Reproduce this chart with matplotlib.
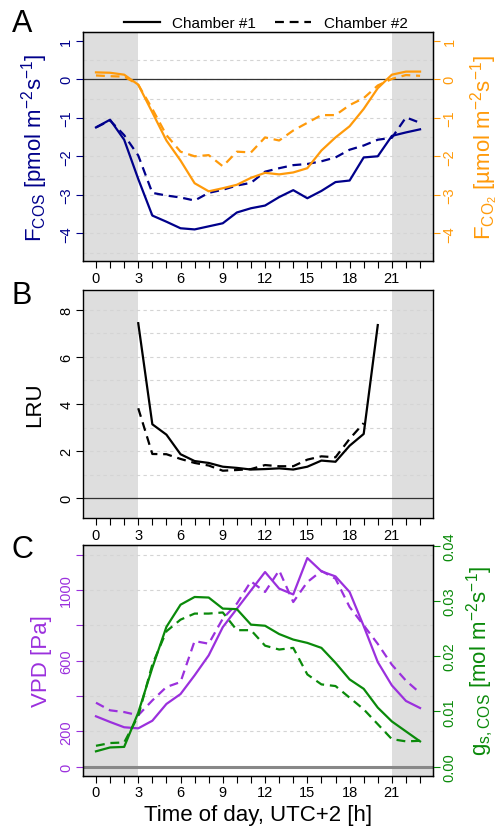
import matplotlib
matplotlib.use('Agg')
import matplotlib.pyplot as plt
import numpy as np

plt.rcParams['font.family'] = ['Liberation Sans', 'DejaVu Sans']
plt.rcParams['mathtext.default'] = 'regular'

# 数据
hours = list(range(24))
night_end, night_start = 3, 21

fcos_1 = [-1.25, -1.05, -1.57, -2.59, -3.54, -3.70, -3.87, -3.90, -3.82, -3.74, -3.46, -3.35,
          -3.28, -3.06, -2.88, -3.09, -2.90, -2.67, -2.63, -2.03, -2.00, -1.47, -1.38, -1.30]
fcos_2 = [-1.25, -1.07, -1.45, -1.98, -2.95, -3.02, -3.07, -3.15, -2.95, -2.87, -2.76, -2.69,
          -2.40, -2.31, -2.23, -2.20, -2.13, -2.03, -1.83, -1.72, -1.57, -1.52, -0.99, -1.13]
fco2_1 = [0.18, 0.17, 0.12, -0.14, -0.86, -1.59, -2.11, -2.70, -2.91, -2.83, -2.74, -2.56,
          -2.43, -2.47, -2.42, -2.31, -1.85, -1.51, -1.22, -0.77, -0.23, 0.12, 0.20, 0.20]
fco2_2 = [0.10, 0.08, 0.07, -0.14, -0.77, -1.45, -1.88, -2.00, -1.97, -2.26, -1.88, -1.90,
          -1.51, -1.59, -1.33, -1.13, -0.93, -0.93, -0.67, -0.49, -0.16, 0.01, 0.11, 0.09]

lru_hours_1 = list(range(3, 21))
lru_1 = [7.43, 3.14, 2.70, 1.87, 1.58, 1.50, 1.34, 1.29, 1.22, 1.24, 1.27, 1.22,
         1.34, 1.60, 1.55, 2.23, 2.73, 7.35]
lru_hours_2 = list(range(3, 20))
lru_2 = [3.82, 1.88, 1.87, 1.67, 1.50, 1.39, 1.17, 1.20, 1.24, 1.41, 1.36, 1.36,
         1.64, 1.78, 1.74, 2.52, 3.19]

vpd_1 = [285, 253, 223, 217, 260, 355, 411, 517, 630, 790, 894, 998,
         1102, 1008, 975, 1181, 1106, 1077, 989, 796, 592, 460, 372, 332]
vpd_2 = [362, 319, 309, 291, 375, 451, 479, 711, 696, 838, 923, 1049,
         989, 1111, 932, 1045, 1108, 1064, 904, 800, 695, 577, 487, 417]
gs_1 = [0.0028, 0.0035, 0.0036, 0.0098, 0.0179, 0.0253, 0.0293, 0.0307, 0.0306, 0.0286, 0.0285, 0.0257,
        0.0255, 0.0240, 0.0230, 0.0224, 0.0215, 0.0188, 0.0158, 0.0141, 0.0107, 0.0082, 0.0064, 0.0046]
gs_2 = [0.0038, 0.0043, 0.0044, 0.0092, 0.0185, 0.0245, 0.0266, 0.0277, 0.0277, 0.0279, 0.0247, 0.0247,
        0.0219, 0.0212, 0.0215, 0.0167, 0.0149, 0.0146, 0.0125, 0.0104, 0.0077, 0.0050, 0.0046, 0.0047]

xticks_major = list(range(0, 22, 3))

# 颜色
navy = '#00008B'
orange = '#FF9A0A'
purple = '#9B30DD'
green = '#0A8A0A'
shade = '#DEDEDE'
grid_c = '#D4D4D4'
DASH = (0, (4, 2.6))
LW = 1.6
TS = 10.5

fig = plt.figure(figsize=(5.01, 8.28), dpi=100)
W = 0.6986
L = 0.1657
xlim = (-0.92, 23.92)


def base(ax, ylim, gridvals):
    ax.set_xlim(xlim)
    ax.set_ylim(ylim)
    ax.axvspan(xlim[0], night_end, color=shade, lw=0, zorder=0)
    ax.axvspan(night_start, xlim[1], color=shade, lw=0, zorder=0)
    for g in gridvals:
        ax.axhline(g, color=grid_c, lw=0.8, ls=(0, (3, 3)), zorder=0.5)
    ax.set_xticks(hours, minor=True)
    ax.set_xticks(xticks_major)
    ax.tick_params(axis='x', which='both', direction='out', length=5, width=0.8,
                   labelsize=TS, pad=2)
    for s in ax.spines.values():
        s.set_linewidth(1.0)


def rot_yticks(ax, color, side='left'):
    ax.tick_params(axis='y', colors=color, direction='out', length=5, width=0.8,
                   labelsize=TS, pad=2)
    for lab in ax.get_yticklabels():
        lab.set_rotation(90)
        lab.set_va('center')
        lab.set_ha('right' if side == 'left' else 'left')


# A
axA = fig.add_axes([L, 0.6836, W, 0.2766])
base(axA, (-4.72, 1.23), np.arange(-4.5, 0.51, 0.5))
axA.axhline(0, color='#333333', lw=0.9, zorder=1)
axA.plot(hours, fcos_1, color=navy, lw=LW, zorder=3)
axA.plot(hours, fcos_2, color=navy, lw=LW, ls=DASH, zorder=3)
axA.plot(hours, fco2_1, color=orange, lw=LW, zorder=3)
axA.plot(hours, fco2_2, color=orange, lw=LW, ls=DASH, zorder=3)
axA.set_yticks(range(-4, 2))
axA.set_yticklabels(['\u22124', '\u22123', '\u22122', '\u22121', '0', '1'])
rot_yticks(axA, navy)
axA.set_ylabel(r'F$_{COS}$ [pmol m$^{-2}$s$^{-1}$]', color=navy, fontsize=16, labelpad=7)
axA2 = axA.twinx()
axA2.set_ylim(axA.get_ylim())
axA2.set_yticks(range(-4, 2))
axA2.set_yticklabels(['\u22124', '\u22123', '\u22122', '\u22121', '0', '1'])
rot_yticks(axA2, orange, side='right')
axA2.set_ylabel(r'F$_{CO_2}$ [µmol m$^{-2}$s$^{-1}$]', color=orange, fontsize=16, labelpad=9)

# B
axB = fig.add_axes([L, 0.3728, W, 0.2761])
base(axB, (-0.85, 8.85), range(1, 9))
axB.axhline(0, color='#333333', lw=0.9, zorder=1)
axB.plot(lru_hours_1, lru_1, color='black', lw=LW, zorder=3)
axB.plot(lru_hours_2, lru_2, color='black', lw=LW, ls=DASH, zorder=3)
axB.set_yticks([0, 2, 4, 6, 8])
rot_yticks(axB, 'black')
axB.set_ylabel('LRU', fontsize=16, labelpad=10)

# C
axC = fig.add_axes([L, 0.0620, W, 0.2786])
base(axC, (-51, 1255), range(200, 1201, 200))
axC.axhline(0, color='#888888', lw=2.2, zorder=1)
axC.plot(hours, vpd_1, color=purple, lw=LW, zorder=3)
axC.plot(hours, vpd_2, color=purple, lw=LW, ls=DASH, zorder=3)
axC.set_yticks(range(0, 1201, 200))
axC.set_yticklabels(['0', '200', '', '600', '', '1000', ''])
rot_yticks(axC, purple)
axC.set_ylabel('VPD [Pa]', color=purple, fontsize=16, labelpad=5)
axC.set_xlabel('Time of day, UTC+2 [h]', fontsize=16, labelpad=3)
axC2 = axC.twinx()
axC2.set_ylim(-0.0016, 0.0401)
axC2.plot(hours, gs_1, color=green, lw=LW, zorder=3)
axC2.plot(hours, gs_2, color=green, lw=LW, ls=DASH, zorder=3)
axC2.set_yticks([0.0, 0.01, 0.02, 0.03, 0.04])
axC2.set_yticklabels(['0.00', '0.01', '0.02', '0.03', '0.04'])
rot_yticks(axC2, green, side='right')
axC2.set_ylabel(r'g$_{s,COS}$ [mol m$^{-2}$s$^{-1}$]', color=green, fontsize=16, labelpad=6)

# 图例和面板字母
h1, = axA.plot([], [], color='black', lw=LW)
h2, = axA.plot([], [], color='black', lw=LW, ls=DASH)
fig.legend([h1, h2], ['Chamber #1', 'Chamber #2'], loc='center', ncol=2,
           bbox_to_anchor=(0.53, 0.971), frameon=False, fontsize=11,
           handlelength=2.4, columnspacing=1.2, handletextpad=0.8)
for letter, y in [('A', 0.971), ('B', 0.642), ('C', 0.336)]:
    fig.text(0.044, y, letter, fontsize=22, ha='center', va='center')

fig.savefig('out.png', dpi=100)
